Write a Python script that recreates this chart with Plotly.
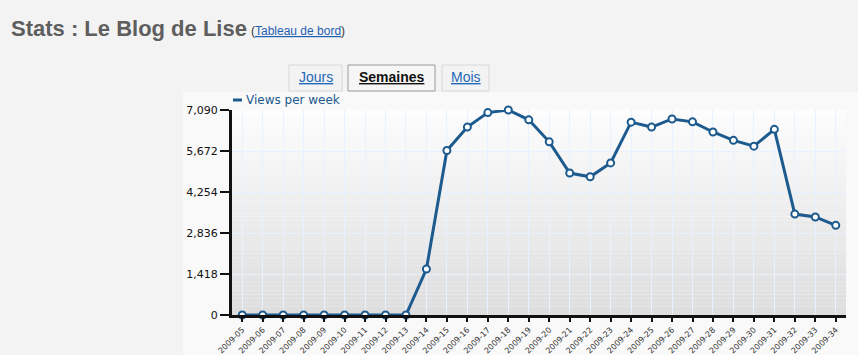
import plotly.graph_objects as go

weeks = ["2009-05", "2009-06", "2009-07", "2009-08", "2009-09", "2009-10",
         "2009-11", "2009-12", "2009-13", "2009-14", "2009-15", "2009-16",
         "2009-17", "2009-18", "2009-19", "2009-20", "2009-21", "2009-22",
         "2009-23", "2009-24", "2009-25", "2009-26", "2009-27", "2009-28",
         "2009-29", "2009-30", "2009-31", "2009-32", "2009-33", "2009-34"]
views = [0, 0, 0, 0, 0, 0, 0, 0, 0,
         1590, 5690, 6500, 7000, 7090, 6750, 5990, 4910, 4780, 5260,
         6670, 6500, 6780, 6680, 6330, 6040, 5840, 6420, 3490, 3390, 3100]
y_ticks = [0, 1418, 2836, 4254, 5672, 7090]
y_ticktext = ["0", "1,418", "2,836", "4,254", "5,672", "7,090"]
series_name = "Views per week"
tabs = ["Jours", "Semaines", "Mois"]

W, H = 858, 355
L, R, T, B = 232, 12, 110, 40
PW, PH = W - L - R, H - T - B

def px(x):
    return (x - L) / PW

def py(y):
    return (H - B - y) / PH

BLUE = "#1d5a8e"

fig = go.Figure()
fig.add_trace(go.Scatter(
    x=weeks, y=views, mode="lines+markers", name=series_name,
    line=dict(color=BLUE, width=3),
    marker=dict(symbol="circle", size=7, color="white",
                line=dict(color=BLUE, width=2)),
    cliponaxis=False, showlegend=False, hoverinfo="x+y"))

shapes = []
# chart container background
shapes.append(dict(type="rect", xref="paper", yref="paper",
                   x0=px(183), x1=px(858), y0=py(355), y1=py(92),
                   fillcolor="#f9f9f9", line=dict(width=0), layer="below"))
# gradient plot background
n = 50
top, bot = 253, 221
for i in range(n):
    t = (i + 0.5) / n
    c = int(round(bot + (top - bot) * t))
    shapes.append(dict(type="rect", xref="x domain", yref="y domain",
                       x0=0, x1=1, y0=i / n, y1=(i + 1) / n,
                       fillcolor=f"rgb({c},{c},{c})", line=dict(width=0),
                       layer="below"))
# tabs
tab_boxes = [(289, 342, "#f3f3f3", "#d8d8d8"),
             (348, 435, "#f6f6f6", "#9a9a9a"),
             (442, 489, "#f3f3f3", "#d8d8d8")]
for x0, x1, fc, lc in tab_boxes:
    shapes.append(dict(type="rect", xref="paper", yref="paper",
                       x0=px(x0), x1=px(x1), y0=py(91), y1=py(65),
                       fillcolor=fc, line=dict(color=lc, width=1),
                       layer="below"))
# legend dash
shapes.append(dict(type="line", xref="paper", yref="paper",
                   x0=px(233), x1=px(242), y0=py(100), y1=py(100),
                   line=dict(color=BLUE, width=3)))

annotations = []
annotations.append(dict(
    xref="paper", yref="paper", x=px(9), y=py(28), xanchor="left",
    yanchor="middle", showarrow=False,
    text="<b>Stats : Le Blog de Lise</b>",
    font=dict(family="Liberation Sans, Arial", size=22, color="#5e5e5e")))
annotations.append(dict(
    xref="paper", yref="paper", x=px(249), y=py(31), xanchor="left",
    yanchor="middle", showarrow=False,
    text="<span style='color:#333'>(</span><u>Tableau de bord</u><span style='color:#333'>)</span>",
    font=dict(family="Liberation Sans Narrow, Liberation Sans, Arial",
              size=12, color="#1f5fb0")))
tab_centers = [315.5, 391.5, 465.5]
for name, cx in zip(tabs, tab_centers):
    if name == "Semaines":
        txt, col = f"<b><u>{name}</u></b>", "#111111"
    else:
        txt, col = f"<u>{name}</u>", "#2468b8"
    annotations.append(dict(
        xref="paper", yref="paper", x=px(cx), y=py(77), xanchor="center",
        yanchor="middle", showarrow=False, text=txt,
        font=dict(family="Liberation Sans, Arial", size=14, color=col)))
annotations.append(dict(
    xref="paper", yref="paper", x=px(244), y=py(100), xanchor="left",
    yanchor="middle", showarrow=False, text=series_name,
    font=dict(family="DejaVu Sans", size=12, color=BLUE)))

fig.update_layout(
    width=W, height=H, autosize=False,
    margin=dict(l=L, r=R, t=T, b=B, pad=0, autoexpand=False),
    paper_bgcolor="#f3f3f3", plot_bgcolor="rgba(0,0,0,0)",
    showlegend=False,
    shapes=shapes, annotations=annotations,
    font=dict(family="DejaVu Sans", size=11, color="#111"),
    xaxis=dict(type="category", categoryorder="array", categoryarray=weeks,
               range=[-0.5, len(weeks) - 0.5], automargin=False,
               showgrid=True, gridcolor="rgba(232,241,255,0.95)", gridwidth=1,
               showline=True, linecolor="#111", linewidth=3,
               ticks="outside", ticklen=4, tickwidth=2, tickcolor="#111",
               tickangle=-45, tickfont=dict(family="DejaVu Sans", size=8,
                                            color="#333"),
               zeroline=False, fixedrange=True),
    yaxis=dict(range=[0, 7090], tickvals=y_ticks, ticktext=y_ticktext,
               automargin=False,
               showgrid=True, gridcolor="rgba(232,241,255,0.95)", gridwidth=1,
               showline=True, linecolor="#111", linewidth=3,
               ticks="outside", ticklen=9, tickwidth=2, tickcolor="#111",
               tickfont=dict(family="DejaVu Sans", size=11, color="#111"),
               zeroline=False, fixedrange=True),
)

fig.write_html("out.html")
